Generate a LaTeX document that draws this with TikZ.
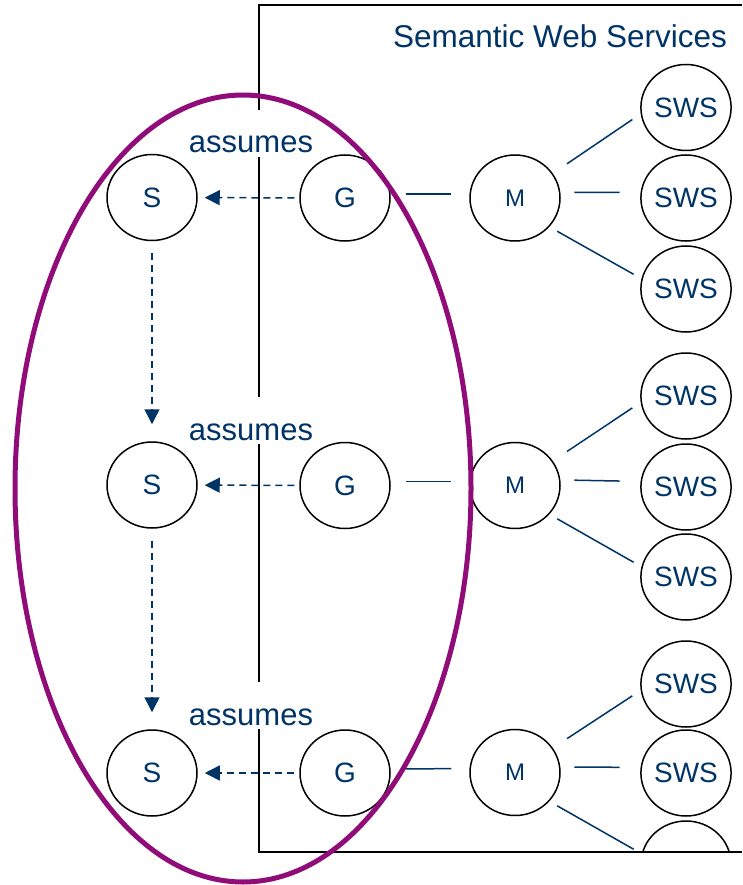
\documentclass[tikz,border=0pt]{standalone}
\usepackage{fontspec}
\setmainfont{Liberation Sans}
\usepackage{tikz}
\usetikzlibrary{arrows.meta}
\usetikzlibrary{shapes.geometric}
\usetikzlibrary{positioning}

\definecolor{navy}{RGB}{0,51,102}
\definecolor{plum}{RGB}{144,12,120}

\begin{document}
\begin{tikzpicture}[x=1pt,y=1pt,yscale=-1,xscale=1,
  ball/.style={ellipse, draw=black, line width=1.5pt, minimum width=90pt, minimum height=86pt, inner sep=0pt, text=navy, font=\fontsize{28}{30}\selectfont},
  mball/.style={ball, font=\fontsize{24}{26}\selectfont},
  tag/.style={fill=white, inner sep=0pt, text=navy, anchor=base, text height=43pt, text depth=4pt, font=\fontsize{31}{34}\selectfont},
  link/.style={draw=navy, line width=1.5pt},
  assume/.style={draw=navy, line width=1.5pt, dash pattern=on 7pt off 5pt, -{Triangle[length=15pt,width=15pt]}}]
\useasboundingbox (0,0) rectangle (742,885);

%frame of the services block
\draw [line width=1.5pt] (742,5) -- (259,5) -- (259,852) -- (742,852) ;
\node [anchor=base, text=navy, font=\fontsize{31.5}{34}\selectfont] (title) at (560,48) {Semantic Web Services};

%goals, mediators and services, row 1
\node [ball] (s1) at (152,197.5) {S};
\node [ball] (g1) at (345,198) {G};
\node [mball] (m1) at (515,198) {M};
\node [ball] (w11) at (686,107.5) {SWS};
\node [ball] (w12) at (686,198) {SWS};
\node [ball] (w13) at (686,289) {SWS};

%row 2
\node [ball] (s2) at (152,485) {S};
\node [ball] (g2) at (345,485.5) {G};
\node [mball] (m2) at (515,485.5) {M};
\node [ball] (w21) at (686,396) {SWS};
\node [ball] (w22) at (686,487) {SWS};
\node [ball] (w23) at (686,577) {SWS};

%row 3
\node [ball] (s3) at (152,773) {S};
\node [ball] (g3) at (345,773) {G};
\node [mball] (m3) at (515,772.5) {M};
\node [ball] (w31) at (686,684) {SWS};
\node [ball] (w32) at (686,773) {SWS};

% assumes labels, they cut the frame line
\node [tag] (a1) at (251,153) {assumes};
\node [tag] (a2) at (251,440) {assumes};
\node [tag] (a3) at (251,725) {assumes};

%Straight Lines
\draw [link, shorten <=15pt, shorten >=18pt] (g1.5) -- (m1.175) ;
\draw [link, shorten <=17pt, shorten >=10pt] (m1.33) -- (w11.188) ;
\draw [link, shorten <=14pt, shorten >=21pt] (m1.7) -- (w12.173) ;
\draw [link, shorten <=9pt, shorten >=9pt] (m1.-40) -- (w13.167) ;

\draw [link, shorten <=15pt, shorten >=18pt] (g2.5) -- (m2.175) ;
\draw [link, shorten <=17pt, shorten >=10pt] (m2.33) -- (w21.188) ;
\draw [link, shorten <=14pt, shorten >=21pt] (m2.7) -- (w22.173) ;
\draw [link, shorten <=9pt, shorten >=9pt] (m2.-40) -- (w23.167) ;

\draw [link, shorten <=15pt, shorten >=18pt] (g3.5) -- (m3.175) ;
\draw [link, shorten <=17pt, shorten >=10pt] (m3.33) -- (w31.188) ;
\draw [link, shorten <=14pt, shorten >=21pt] (m3.7) -- (w32.173) ;

%last service is cut by the frame
\begin{scope}
\clip (259,5) rectangle (742,852);
\node [ball] (w33) at (686,864) {};
\draw [link, shorten <=9pt, shorten >=9pt] (m3.-40) -- (w33.167) ;
\end{scope}

%Dashed arrows
\draw [assume, shorten <=5pt, shorten >=7pt] (g1) -- (s1) ;
\draw [assume, shorten <=5pt, shorten >=7pt] (g2) -- (s2) ;
\draw [assume, shorten <=5pt, shorten >=7pt] (g3) -- (s3) ;
\draw [assume, shorten <=12pt, shorten >=17pt] (s1) -- (s2) ;
\draw [assume, shorten <=12pt, shorten >=17pt] (s2) -- (s3) ;

%ring around the goal chain
\draw [draw=plum, line width=5pt] (243,488.5) ellipse [x radius=228, y radius=393.5] ;

\end{tikzpicture}
\end{document}
